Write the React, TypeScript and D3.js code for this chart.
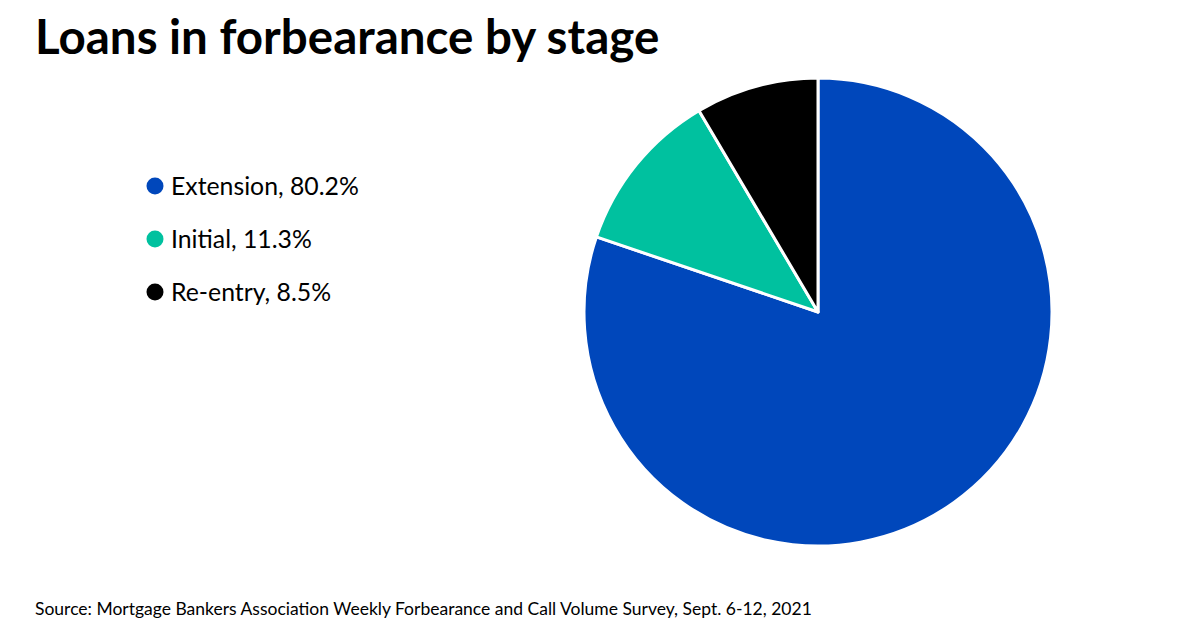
import * as d3 from 'd3';
import React from 'react';

const categories = ['Extension', 'Initial', 'Re-entry'];
const values = [80.2, 11.3, 8.5];
const colors = ['#0047BB', '#00C19F', '#000000'];

const width = 1200;
const height = 630;

const App: React.FC = () => {
  const cx = 818;
  const cy = 312;
  const radius = 234;

  const pie = d3
    .pie<number>()
    .sort(null)
    .value((d) => d);
  const arcs = pie(values);
  const arc = d3.arc<d3.PieArcDatum<number>>().innerRadius(0).outerRadius(radius);

  const color = d3.scaleOrdinal<string, string>().domain(categories).range(colors);
  const legendY = d3
    .scalePoint<string>()
    .domain(categories)
    .range([186, 292]);

  return (
    <svg
      width={width}
      height={height}
      style={{ position: 'absolute', left: 0, top: 0, background: '#fff' }}
      fontFamily="Lato, 'Open Sans', sans-serif"
    >
      <text x={35} y={54} fontSize={47.5} fontWeight={700} fill="#000">
        Loans in forbearance by stage
      </text>

      <g transform={`translate(${cx},${cy})`}>
        {arcs.map((a, i) => (
          <path
            key={categories[i]}
            d={arc(a) || ''}
            fill={color(categories[i])}
            stroke="#fff"
            strokeWidth={3}
            strokeLinejoin="round"
          />
        ))}
      </g>

      {categories.map((c, i) => {
        const y = legendY(c) ?? 0;
        return (
          <g key={`legend-${c}`} transform={`translate(155,${y})`}>
            <circle r={8.5} fill={color(c)} />
            <text x={16} dy="0.35em" fontSize={24.8} fill="#000">
              {`${c}, ${values[i]}%`}
            </text>
          </g>
        );
      })}

      <text x={35} y={615} fontSize={17.5} fill="#000">
        Source: Mortgage Bankers Association Weekly Forbearance and Call Volume Survey, Sept. 6-12, 2021
      </text>
    </svg>
  );
};

export default App;
